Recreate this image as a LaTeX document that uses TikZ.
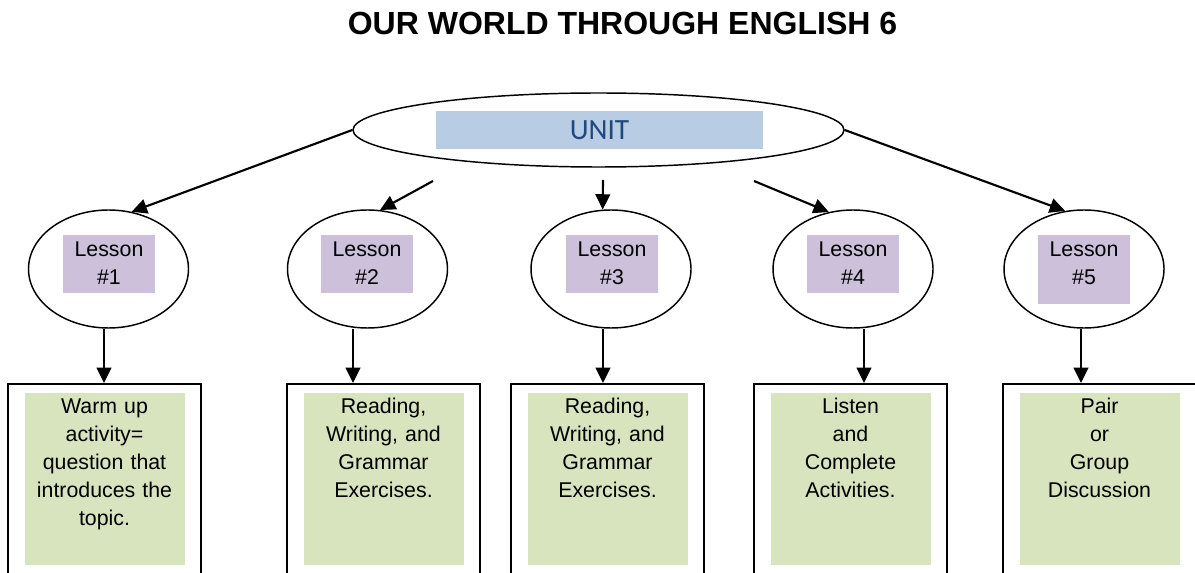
\documentclass[tikz,border=0pt]{standalone}
\usepackage{fontspec}
\setmainfont{Liberation Sans}
\newfontfamily\unitfont{Carlito}
\usetikzlibrary{positioning,shapes.geometric,arrows.meta}
\definecolor{unitblue}{HTML}{B8CCE4}
\definecolor{unittext}{HTML}{1F497D}
\definecolor{lessonpurple}{HTML}{CCC0DA}
\definecolor{taskgreen}{HTML}{D7E4BD}

\begin{document}
\begin{tikzpicture}[x=0.75pt,y=-0.75pt,
font=\fontsize{16}{21}\selectfont,
unitoval/.style={
ellipse,
draw,
line width=1.1pt,
minimum width=368.25pt,
minimum height=55.5pt,
inner sep=0pt
},
lesson/.style={
ellipse,
draw,
line width=1.1pt,
minimum width=120pt,
minimum height=88.5pt,
inner sep=0pt
},
tag/.style={
rectangle,
fill=lessonpurple,
anchor=north,
text width=69pt,
align=center,
inner sep=0pt,
text height=16pt,
text depth=27.5pt
},
task/.style={
rectangle,
draw,
line width=1.5pt,
anchor=north,
minimum width=144.75pt,
minimum height=163pt
},
work/.style={
rectangle,
fill=taskgreen,
inner sep=0pt,
text width=120pt,
align=center,
text height=15pt,
text depth=114pt
},
to/.style={-{Triangle[length=11.5pt,width=11pt]},line width=1.6pt},
]
\useasboundingbox (0,0) rectangle (1195,573);
\clip (0,0) rectangle (1195,573);

\node (title) at (622.5,23) {\fontsize{24}{28}\selectfont\bfseries OUR WORLD THROUGH ENGLISH 6};

\node (unit) [unitoval] at (598.5,130) {};
\node (unitlbl) [fill=unitblue,minimum width=245.25pt,minimum height=28.5pt,inner sep=0pt,
  text=unittext,font=\unitfont\fontsize{22}{26}\selectfont] at (599.5,130) {UNIT};

\node (l1) [lesson] at (108.5,269) {};
\node (l2) [lesson] at (367.5,269) {};
\node (l3) [lesson] at (611,269) {};
\node (l4) [lesson] at (853,269) {};
\node (l5) [lesson] at (1084,269) {};

\node (n1) [tag] at (109,235) {Lesson\\\#1};
\node (n2) [tag] at (367,235) {Lesson\\\#2};
\node (n3) [tag] at (612,235) {Lesson\\\#3};
\node (n4) [tag] at (853,235) {Lesson\\\#4};
\node (n5) [tag,text depth=35.75pt] at (1084,235) {Lesson\\\#5};

\node (t1) [task] at (104.5,383) {};
\node (t2) [task] at (383.5,383) {};
\node (t3) [task] at (607.5,383) {};
\node (t4) [task] at (850.5,383) {};
\node (t5) [task] at (1099.5,383) {};

\node (w1) [work,below=7.5pt of t1.north] {Warm up\\activity=\\question that\\introduces the\\topic.};
\node (w2) [work,below=7.5pt of t2.north] {Reading,\\Writing, and\\Grammar\\Exercises.};
\node (w3) [work,below=7.5pt of t3.north] {Reading,\\Writing, and\\Grammar\\Exercises.};
\node (w4) [work,below=7.5pt of t4.north] {Listen\\and\\Complete\\Activities.};
\node (w5) [work,below=7.5pt of t5.north] {Pair\\or\\Group\\Discussion};

\coordinate (s2) at (433,181);
\coordinate (s3) at (603,180);
\coordinate (s4) at (754,181);
\draw[to] (unit.west) -- (l1.68);
\draw[to] (s2) -- (l2.78);
\draw[to] (s3) -- (l3.98);
\draw[to] (s4) -- (l4.113);
\draw[to] (unit.east) -- (l5.108);

\coordinate (d1) at (104,383);
\coordinate (d2) at (353,383);
\coordinate (d3) at (603,383);
\coordinate (d4) at (864,383);
\coordinate (d5) at (1081,383);
\draw[to] (l1.south -| d1) -- (d1);
\draw[to] (l2.south -| d2) -- (d2);
\draw[to] (l3.south -| d3) -- (d3);
\draw[to] (l4.south -| d4) -- (d4);
\draw[to] (l5.south -| d5) -- (d5);
\end{tikzpicture}
\end{document}
